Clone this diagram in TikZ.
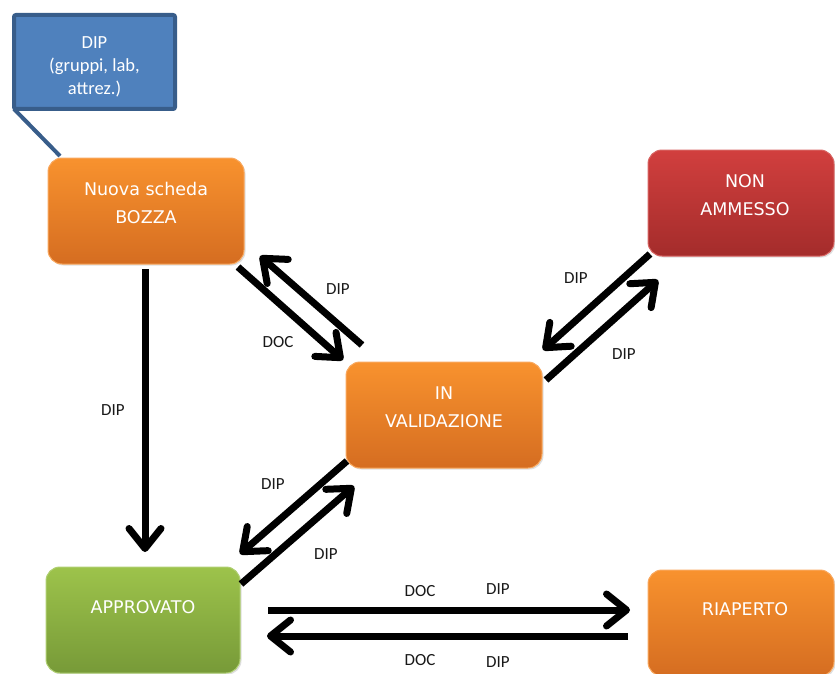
\documentclass[tikz,border=0pt]{standalone}
\usepackage{fontspec}
\setmainfont{Carlito}
\newfontfamily\comicfont{DejaVu Sans}
\usetikzlibrary{arrows.meta,shadows}
\definecolor{orTop}{HTML}{F8922E}
\definecolor{orBot}{HTML}{D56D21}
\definecolor{orLine}{HTML}{F9A85E}
\definecolor{redTop}{HTML}{D13F3E}
\definecolor{redBot}{HTML}{A42C2B}
\definecolor{redLine}{HTML}{D86462}
\definecolor{grTop}{HTML}{9DC34B}
\definecolor{grBot}{HTML}{779A38}
\definecolor{grLine}{HTML}{AFCF71}
\definecolor{calloutFill}{HTML}{4F81BD}
\definecolor{calloutLine}{HTML}{385D8A}
\begin{document}
\begin{tikzpicture}[x=1pt,y=-1pt,
  box/.style = {rectangle,rounded corners=14pt,inner sep=0pt,outer sep=0pt,line width=1pt,
                minimum height=106pt,drop shadow={opacity=0.25,shadow xshift=1.5pt,shadow yshift=-1.5pt}},
  orangebox/.style = {box,draw=orLine,top color=orTop,bottom color=orBot},
  redbox/.style = {box,draw=redLine,top color=redTop,bottom color=redBot},
  greenbox/.style = {box,draw=grLine,top color=grTop,bottom color=grBot},
  boxtext/.style = {text=white,align=center,font=\comicfont\fontsize{17.5}{28}\selectfont},
  callout/.style = {rectangle,draw=calloutLine,fill=calloutFill,line width=4pt,rounded corners=2pt,
                    minimum width=161pt,minimum height=94pt,inner sep=0pt,outer sep=0pt,
                    text=white,align=center,font=\fontsize{18.5}{23}\selectfont},
  lbl/.style = {font=\fontsize{17}{20}\selectfont,text=black!90},
  arr/.style = {line width=7pt,-{Straight Barb[length=20pt,width=32pt,round]}}]
\useasboundingbox (0,0) rectangle (835,674);

% states
\node[orangebox,minimum width=196pt] (bozza)  at (146,211) {};
\node[redbox,minimum width=186pt]    (nonamm) at (741,203) {};
\node[orangebox,minimum width=196pt] (valid)  at (444,415) {};
\node[greenbox,minimum width=194pt]  (appr)   at (143,620) {};
\node[orangebox,minimum width=186pt] (riap)   at (741,623) {};

\node[boxtext] (bozzaT)  at ([shift={(0,-8)}]bozza.center)  {Nuova scheda\\BOZZA};
\node[boxtext] (nonammT) at ([shift={(4,-8)}]nonamm.center) {NON\\AMMESSO};
\node[boxtext] (validT)  at ([shift={(0,-7.5)}]valid.center) {IN\\VALIDAZIONE};
\node[boxtext] (apprT)   at ([shift={(0,-13)}]appr.center)  {APPROVATO};
\node[boxtext] (riapT)   at ([shift={(4,-14)}]riap.center)  {RIAPERTO};

% callout
\node[callout] (dip) at (94.5,62) {\rule{0pt}{21pt}DIP\\(gruppi, lab,\\attrez.)};
\draw[calloutLine,line width=4pt] (dip.south west) -- ([shift={(12,-2)}]bozza.north west);

% transitions
\draw[arr] ([shift={(-1,5)}]bozza.south) -- ([shift={(2,-15)}]appr.north);
\draw[arr] ([shift={(-6,3)}]bozza.south east) -- ([shift={(-3,-2)}]valid.north west);
\draw[arr] ([shift={(16,-17)}]valid.north west) -- ([shift={(16,-8)}]bozza.south east);
\draw[arr] ([shift={(4,18)}]valid.north east) -- ([shift={(10,24)}]nonamm.south west);
\draw[arr] ([shift={(2,-2)}]nonamm.south west) -- ([shift={(1,-12)}]valid.north east);
\draw[arr] ([shift={(1,-7)}]valid.south west) -- ([shift={(0,-13)}]appr.north east);
\draw[arr] ([shift={(1,17)}]appr.north east) -- ([shift={(8,18)}]valid.south west);
\draw[arr] ([shift={(28,-10)}]appr.east) -- ([shift={(-18,-13)}]riap.west);
\draw[arr] ([shift={(-20,13)}]riap.west) -- ([shift={(27,16)}]appr.east);

% labels
\foreach \x/\y/\t [count=\i] in {113/410/DIP, 278/342/DOC, 338/289/DIP, 576/278/DIP, 624/354/DIP,
    273/484/DIP, 326/554/DIP, 420/591/DOC, 498/589/DIP, 420/660/DOC, 498/662/DIP}
    \node[lbl] (lbl\i) at (\x,\y) {\t};
\end{tikzpicture}
\end{document}
